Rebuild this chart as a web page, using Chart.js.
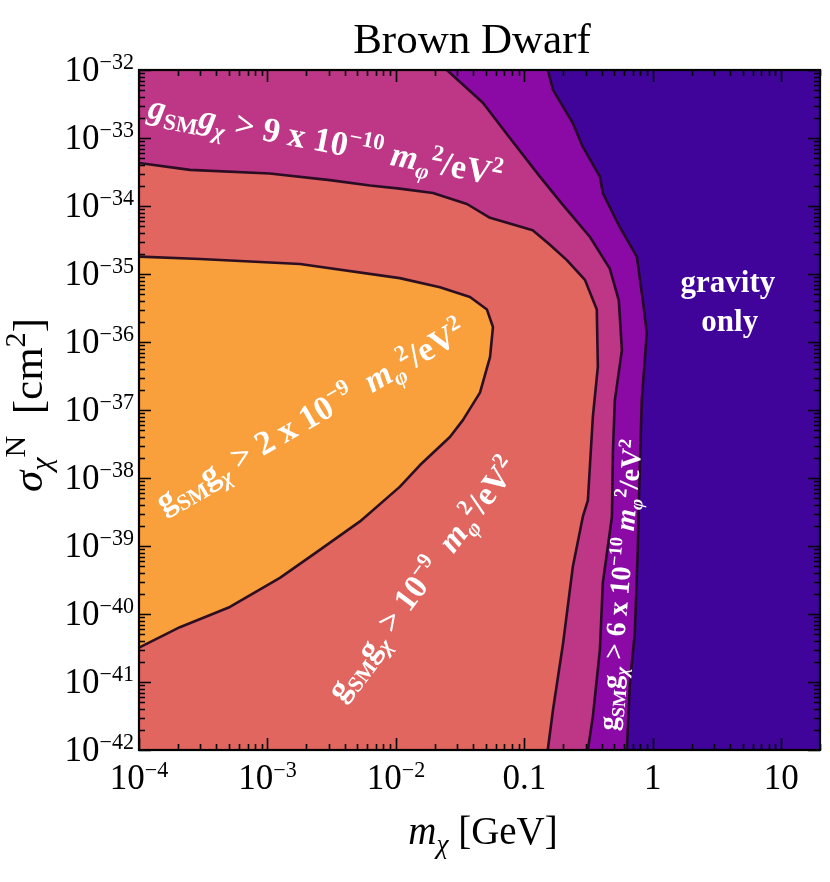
<!DOCTYPE html>
<html>
<head>
<meta charset="utf-8">
<script src="https://cdn.jsdelivr.net/npm/chart.js@4.4.1/dist/chart.umd.min.js"></script>
<style>
html,body{margin:0;padding:0;background:#ffffff;}
#wrap{width:830px;height:882px;position:relative;}
</style>
</head>
<body>
<div id="wrap"><canvas id="c" width="830" height="882"></canvas></div>
<script>
// ---------------- DATA ----------------
// axis ranges
const X_MIN = 1e-4, X_MAX = 20;
const Y_MIN = 1e-42, Y_MAX = 1e-32;

// tick labels
const xTickValues = [1e-4, 1e-3, 1e-2, 0.1, 1, 10];
const xTickLabels = ['10^{−4}', '10^{−3}', '10^{−2}', '0.1', '1', '10'];
const yTickValues = [1e-32, 1e-33, 1e-34, 1e-35, 1e-36, 1e-37, 1e-38, 1e-39, 1e-40, 1e-41, 1e-42];
const yTickLabels = ['10^{−32}', '10^{−33}', '10^{−34}', '10^{−35}', '10^{−36}', '10^{−37}',
                     '10^{−38}', '10^{−39}', '10^{−40}', '10^{−41}', '10^{−42}'];

// contour boundary: g_SM g_chi > 2e-9 (orange island)
const orangeMass  = [1e-4, 2.99e-4, 1.79e-3, 1.07e-2, 2.20e-2, 3.77e-2, 5.11e-2, 5.69e-2, 5.40e-2, 4.51e-2,
                     3.32e-2, 2.63e-2, 1.54e-2, 1.07e-2, 5.25e-3, 2.43e-3, 1.25e-3, 5.1e-4, 2.08e-4, 1e-4];
const orangeSigma = [1.8e-35, 1.66e-35, 1.4e-35, 8.7e-36, 6.4e-36, 4.6e-36, 3.0e-36, 1.66e-36, 6.0e-37, 1.8e-37,
                     7.1e-38, 4.0e-38, 1.55e-38, 7.4e-39, 2.3e-39, 8.2e-40, 3.4e-40, 1.27e-40, 6.4e-41, 3.2e-41];

// contour boundary: g_SM g_chi > 1e-9 (salmon)
const salmonMass  = [1e-4, 2.49e-4, 1.04e-3, 3.06e-3, 6.28e-3, 1.07e-2, 1.94e-2, 3.57e-2, 5.40e-2, 0.116, 0.158,
                     0.214, 0.296, 0.366, 0.373, 0.341, 0.312, 0.285, 0.238, 0.200, 0.167, 0.152];
const salmonSigma = [4.3e-34, 3.4e-34, 3.0e-34, 2.4e-34, 2.0e-34, 1.8e-34, 1.55e-34, 1.07e-34, 6.7e-35, 4.4e-35, 2.7e-35,
                     1.6e-35, 8.2e-36, 3.0e-36, 4.3e-37, 7.9e-38, 4.7e-39, 2.7e-39, 4.9e-40, 3.7e-41, 3.9e-42, 1e-42];

// contour boundary: g_SM g_chi > 9e-10 (magenta)
const magentaMass  = [0.0249, 0.0475, 0.0771, 0.132, 0.200, 0.324, 0.462, 0.543, 0.574, 0.506, 0.489, 0.480,
                      0.408, 0.387, 0.341, 0.312];
const magentaSigma = [1e-32, 3.3e-33, 1.0e-33, 2.7e-34, 1.03e-34, 3.5e-35, 1.2e-35, 4.1e-36, 7.6e-37, 1.4e-37,
                      2.6e-38, 2.7e-39, 2.9e-40, 3.0e-41, 3.1e-42, 1e-42];

// contour boundary: g_SM g_chi > 6e-10 (purple); right of it: gravity only
const purpleMass  = [0.152, 0.167, 0.238, 0.285, 0.387, 0.408, 0.553, 0.750, 0.835, 0.897, 0.820, 0.778,
                     0.763, 0.724, 0.662, 0.628];
const purpleSigma = [1e-32, 5.1e-33, 1.66e-33, 7.4e-34, 2.7e-34, 1.55e-34, 4.9e-35, 1.8e-35, 4.1e-36, 1.36e-36,
                     1.4e-37, 4.7e-39, 8.7e-40, 5.3e-41, 9.7e-42, 1e-42];

// annotations: [text, anchor mass, anchor sigma, angle (deg), baseline length px]
const annotations = [
  ['*g*_{SM}*g*_{*χ*} > 9 x 10^{−10} *m*_{*φ*}^{2}/eV^{2}', 1.15e-4, 2.0e-33, 11, 360],
  ['g_{SM}g_{*χ*} > 2 x 10^{−9}  *m*_{*φ*}^{2}/eV^{2}', 1.55e-4, 3.0e-39, -30, 352],
  ['g_{SM}g_{*χ*} > 10^{−9}  *m*_{*φ*}^{2}/eV^{2}', 3.8e-3, 5.0e-42, -53, 294],
  ['g_{SM}g_{*χ*} > 6 x 10^{−10} *m*_{*φ*}^{2}/eV^{2}', 0.52, 1.9e-42, -85, 292]
];
const gravityLabel = [['gravity', 3.84, 5.4e-36], ['only', 3.97, 1.45e-36]];

// ---------------- STYLE ----------------
const C_DARK = '#40049b', C_PURPLE = '#8b0aa5', C_MAGENTA = '#bd3786', C_SALMON = '#e1665f', C_ORANGE = '#f99f3b';
const C_LINE = 'rgba(34,10,32,0.95)';
const SERIF = '"Liberation Serif", "Times New Roman", serif';

// ---------------- RICH TEXT ----------------
function parseRich(str) {
  const runs = []; let it = false;
  function parse(s, mode) {
    let i = 0, buf = '';
    const flush = () => { if (buf) { runs.push({ t: buf, mode, it }); buf = ''; } };
    while (i < s.length) {
      const c = s[i];
      if (c === '*') { flush(); it = !it; i++; continue; }
      if ((c === '_' || c === '^') && s[i + 1] === '{') {
        flush();
        let depth = 1, j = i + 2;
        while (j < s.length && depth > 0) { if (s[j] === '{') depth++; else if (s[j] === '}') depth--; j++; }
        parse(s.slice(i + 2, j - 1), c === '_' ? 'sub' : 'sup');
        i = j; continue;
      }
      buf += c; i++;
    }
    flush();
  }
  parse(str, 'n');
  return runs;
}
function runFont(r, o) {
  const s = r.mode === 'n' ? o.size : o.size * o.scriptScale;
  return (r.it ? 'italic ' : '') + (o.weight || 'normal') + ' ' + s + 'px ' + o.family;
}
function measureRich(ctx, runs, o) {
  let w = 0;
  for (const r of runs) { ctx.font = runFont(r, o); w += ctx.measureText(r.t).width; }
  return w;
}
function drawRich(ctx, text, x, y, o) {
  o = Object.assign({ size: 30, family: SERIF, weight: 'normal', angle: 0, align: 'left', color: '#000',
                      scriptScale: 0.68, supRise: 0.36, subDrop: 0.2 }, o);
  const runs = parseRich(text);
  if (o.fitLength) {
    const base = Object.assign({}, o, { size: 100 });
    o.size = 100 * o.fitLength / measureRich(ctx, runs, base);
  }
  ctx.save();
  ctx.translate(x, y);
  ctx.rotate(o.angle * Math.PI / 180);
  const w = measureRich(ctx, runs, o);
  let cx = o.align === 'center' ? -w / 2 : (o.align === 'right' ? -w : 0);
  ctx.fillStyle = o.color; ctx.textBaseline = 'alphabetic'; ctx.textAlign = 'left';
  for (const r of runs) {
    ctx.font = runFont(r, o);
    const dy = r.mode === 'sup' ? -o.size * o.supRise : (r.mode === 'sub' ? o.size * o.subDrop : 0);
    ctx.fillText(r.t, cx, dy);
    cx += ctx.measureText(r.t).width;
  }
  ctx.restore();
}

// ---------------- DATASETS ----------------
function pts(xs, ys) { return xs.map((x, i) => ({ x: x, y: ys[i] })); }
const regions = [
  { m: orangeMass,  s: orangeSigma,  color: C_ORANGE,  corners: [] },
  { m: salmonMass,  s: salmonSigma,  color: C_SALMON,  corners: [{ x: X_MIN, y: Y_MIN }] },
  { m: magentaMass, s: magentaSigma, color: C_MAGENTA, corners: [{ x: X_MIN, y: Y_MIN }, { x: X_MIN, y: Y_MAX }] },
  { m: purpleMass,  s: purpleSigma,  color: C_PURPLE,  corners: [{ x: X_MIN, y: Y_MIN }, { x: X_MIN, y: Y_MAX }] }
];
const datasets = [];
regions.forEach(r => {
  datasets.push({ data: pts(r.m, r.s), borderColor: C_LINE, borderWidth: 2.6, fill: false,
                  pointRadius: 0, tension: 0, borderJoinStyle: 'round' });
  datasets.push({ data: pts(r.m, r.s).concat(r.corners), borderColor: 'transparent', borderWidth: 0,
                  backgroundColor: r.color, fill: 'shape', pointRadius: 0, tension: 0 });
});

function logTicks(majors, maxV) {
  const t = [];
  majors.forEach(m => {
    t.push({ value: m, major: true });
    for (let k = 2; k <= 9; k++) { const v = k * m; if (v <= maxV * 1.0000001) t.push({ value: v, major: false }); }
  });
  return t;
}

// ---------------- PLUGIN ----------------
const framePlugin = {
  id: 'frame',
  beforeDraw(chart) {
    const ctx = chart.ctx;
    ctx.save(); ctx.fillStyle = '#ffffff'; ctx.fillRect(0, 0, chart.width, chart.height); ctx.restore();
  },
  beforeDatasetsDraw(chart) {
    const { ctx, chartArea: a } = chart;
    ctx.save(); ctx.fillStyle = C_DARK; ctx.fillRect(a.left, a.top, a.right - a.left, a.bottom - a.top); ctx.restore();
  },
  afterDatasetsDraw(chart) {
    const { ctx, chartArea: a } = chart;
    const xs = chart.scales.x, ys = chart.scales.y;
    annotations.forEach(([txt, m, s, ang, len]) => {
      drawRich(ctx, txt, xs.getPixelForValue(m), ys.getPixelForValue(s),
               { weight: 'bold', color: '#ffffff', angle: ang, fitLength: len, scriptScale: 0.66, supRise: 0.38, subDrop: 0.22 });
    });
    gravityLabel.forEach(([txt, m, s]) => {
      drawRich(ctx, txt, xs.getPixelForValue(m), ys.getPixelForValue(s),
               { weight: 'bold', color: '#ffffff', size: 31, align: 'center' });
    });
    ctx.save();
    ctx.strokeStyle = '#000'; ctx.lineWidth = 1.6;
    ctx.beginPath();
    xs.ticks.forEach(t => {
      const p = Math.round(xs.getPixelForValue(t.value)) + 0.5;
      const L = t.major ? 12 : 6;
      ctx.moveTo(p, a.bottom); ctx.lineTo(p, a.bottom - L);
      ctx.moveTo(p, a.top); ctx.lineTo(p, a.top + L);
    });
    ys.ticks.forEach(t => {
      const p = Math.round(ys.getPixelForValue(t.value)) + 0.5;
      const L = t.major ? 12 : 6;
      ctx.moveTo(a.left, p); ctx.lineTo(a.left + L, p);
      ctx.moveTo(a.right, p); ctx.lineTo(a.right - L, p);
    });
    ctx.stroke();
    ctx.lineWidth = 2.2;
    ctx.strokeRect(a.left, a.top, a.right - a.left, a.bottom - a.top);
    ctx.restore();
  },
  afterDraw(chart) {
    const { ctx, chartArea: a } = chart;
    const xs = chart.scales.x, ys = chart.scales.y;
    xTickValues.forEach((v, i) => {
      drawRich(ctx, xTickLabels[i], xs.getPixelForValue(v), a.bottom + 39,
               { size: 35, align: 'center', scriptScale: 0.63, supRise: 0.34 });
    });
    yTickValues.forEach((v, i) => {
      drawRich(ctx, yTickLabels[i], a.left - 5, ys.getPixelForValue(v) + 11,
               { size: 35, align: 'right', scriptScale: 0.63, supRise: 0.34 });
    });
    drawRich(ctx, 'Brown Dwarf', 472, 53, { size: 43, align: 'center' });
    drawRich(ctx, '*m*_{*χ*} [GeV]', 483, 844, { size: 39, align: 'center', scriptScale: 0.7, subDrop: 0.22 });
    drawRich(ctx, '*σ*_{*χ*}^{N}  [cm^{2}]', 42, 405, { size: 43, align: 'center', angle: -90, scriptScale: 0.7, subDrop: 0.22, supRise: 0.4 });
  }
};

// ---------------- CHART ----------------
new Chart(document.getElementById('c'), {
  type: 'line',
  data: { datasets: datasets },
  options: {
    responsive: false,
    animation: false,
    devicePixelRatio: 1,
    layout: { padding: { left: 139, right: 10, top: 70, bottom: 132 } },
    plugins: { legend: { display: false }, tooltip: { enabled: false }, title: { display: false } },
    scales: {
      x: {
        type: 'logarithmic', min: X_MIN, max: X_MAX,
        afterBuildTicks: s => { s.ticks = logTicks(xTickValues, X_MAX); },
        afterFit: s => { s.height = 0; },
        ticks: { display: false }, grid: { display: false }, border: { display: false }
      },
      y: {
        type: 'logarithmic', min: Y_MIN, max: Y_MAX,
        afterBuildTicks: s => { s.ticks = logTicks(yTickValues, Y_MAX); },
        afterFit: s => { s.width = 0; },
        ticks: { display: false }, grid: { display: false }, border: { display: false }
      }
    }
  },
  plugins: [framePlugin]
});
</script>
</body>
</html>
